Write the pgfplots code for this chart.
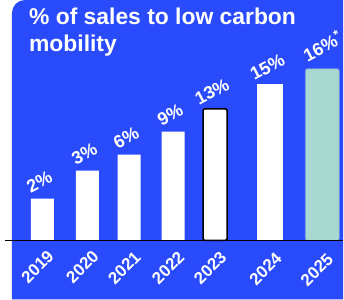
\documentclass[border=0pt]{standalone}
\usepackage{pgfplots}
\pgfplotsset{compat=1.18}
\usepackage{fontspec}
\setmainfont{Liberation Sans}
\definecolor{bgblue}{RGB}{41,75,252}
\definecolor{tealbar}{RGB}{168,216,207}
\definecolor{tealedge}{RGB}{120,150,225}
\tikzset{yearlabel/.style={text=white, font=\bfseries\fontsize{17}{17}\selectfont,
     rotate=45, anchor=east, inner sep=0pt}}
\begin{document}
\begin{tikzpicture}
\begin{axis}[
  scale only axis,
  width=344bp, height=300bp,
  xmin=0, xmax=344, ymin=-59, ymax=241,
  axis line style={draw=none},
  xtick=\empty, ytick=\empty,
  ybar, bar shift=0pt,
  point meta=explicit symbolic,
  nodes near coords,
  every node near coord/.style={text=white,
     font=\bfseries\fontsize{18}{18}\selectfont,
     anchor=center, xshift=-3bp, yshift=17bp, rotate=28, inner sep=0pt},
]
\fill[white] (axis cs:0,-59) rectangle (axis cs:344,241);
\fill[bgblue] (axis cs:12,-59) -- (axis cs:12,228) arc[start angle=180,end angle=90,radius=13bp] -- (axis cs:344,241) -- (axis cs:344,-59) -- cycle;
\node[anchor=base west, text=white, inner sep=0pt,
      font=\bfseries\fontsize{23}{27}\selectfont] at (axis cs:29,216)
      {\% of sales to low carbon};
\node[anchor=base west, text=white, inner sep=0pt,
      font=\bfseries\fontsize{23}{27}\selectfont] at (axis cs:29,189)
      {mobility};
\addplot[fill=white, draw=none, bar width=23] coordinates {
  (42.5,42) [2\%]
  (87.5,70) [3\%]
  (129.5,86) [6\%]
  (173.5,109) [9\%]
};
\addplot[fill=white, draw=black, line width=1.5bp, rounded corners=1.5bp, bar width=24] coordinates {
  (215.5,132) [13\%]
};
\addplot[fill=white, draw=none, bar width=26] coordinates {
  (271,157) [15\%]
};
\addplot[fill=tealbar, draw=tealedge, line width=0.8bp, rounded corners=2bp, bar width=34,
  every node near coord/.style={text=white,
     font=\bfseries\fontsize{18}{18}\selectfont,
     anchor=center, xshift=0bp, yshift=23bp, rotate=28, inner sep=0pt}] coordinates {
  (323,172) [16\%\textsuperscript{*}]
};
\draw[black, line width=1.6bp] (axis cs:5,0) -- (axis cs:344,0);
\node[yearlabel] at (axis cs:51,-13) {2019};
\node[yearlabel] at (axis cs:96,-13) {2020};
\node[yearlabel] at (axis cs:138,-14) {2021};
\node[yearlabel] at (axis cs:182,-14) {2022};
\node[yearlabel] at (axis cs:224,-14) {2023};
\node[yearlabel] at (axis cs:279.5,-15) {2024};
\node[yearlabel] at (axis cs:331,-16) {2025};
\end{axis}
\end{tikzpicture}
\end{document}
